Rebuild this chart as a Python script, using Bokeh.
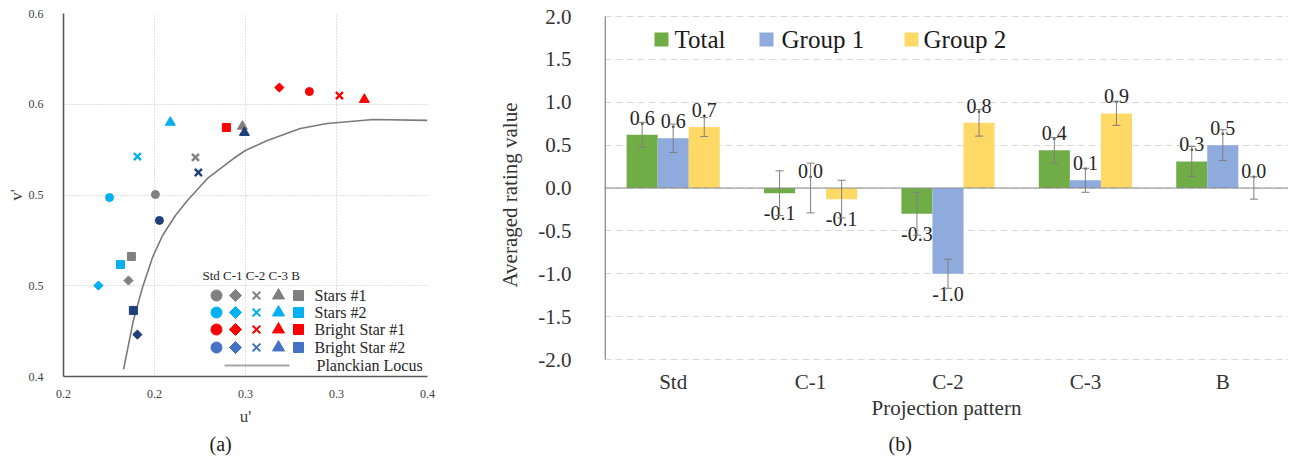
from bokeh.plotting import figure
from bokeh.models import (Range1d, FixedTicker, ColumnDataSource, Whisker, TeeHead,
                          Span, Title, NumeralTickFormatter)
from bokeh.layouts import row
from bokeh.embed import file_html
from bokeh.resources import INLINE
from bokeh.core.properties import value
import numpy as np

SERIF = "Liberation Serif"

# ---------------- (a) chromaticity data ----------------
series_names = ["Stars #1", "Stars #2", "Bright Star #1", "Bright Star #2"]
patterns = ["Std", "C-1", "C-2", "C-3", "B"]
stars1_u = [0.2505, 0.2357, 0.2725, 0.2983, 0.2373]
stars1_v = [0.5003, 0.4529, 0.5207, 0.5378, 0.4661]
stars2_u = [0.2253, 0.2192, 0.2406, 0.2587, 0.2313]
stars2_v = [0.4986, 0.4501, 0.5212, 0.5400, 0.4617]
bright1_u = [0.3351, 0.3186, 0.3516, 0.3653, 0.2895]
bright1_v = [0.5570, 0.5592, 0.5548, 0.5526, 0.5372]
bright2_u = [0.2527, 0.2406, 0.2741, 0.2994, 0.2384]
bright2_v = [0.4860, 0.4231, 0.5124, 0.5344, 0.4364]
locus_u = [0.2330, 0.2384, 0.2434, 0.2489, 0.2544, 0.2615, 0.2681, 0.2791, 0.2934,
           0.2999, 0.3120, 0.3301, 0.3449, 0.3702, 0.3999]
locus_v = [0.4039, 0.4309, 0.4490, 0.4656, 0.4777, 0.4887, 0.4970, 0.5091, 0.5201,
           0.5245, 0.5300, 0.5366, 0.5394, 0.5416, 0.5411]
u_ticks = [0.2, 0.25, 0.3, 0.35, 0.4]
u_tick_labels = ["0.2", "0.2", "0.3", "0.3", "0.4"]
v_ticks = [0.4, 0.45, 0.5, 0.55, 0.6]
v_tick_labels = ["0.4", "0.5", "0.5", "0.6", "0.6"]

# ---------------- (b) rating data ----------------
categories = ["Std", "C-1", "C-2", "C-3", "B"]
group_names = ["Total", "Group 1", "Group 2"]
total_vals = [0.62, -0.06, -0.30, 0.44, 0.31]
group1_vals = [0.58, 0.00, -1.00, 0.09, 0.50]
group2_vals = [0.71, -0.13, 0.76, 0.87, 0.00]
total_err = [0.145, 0.26, 0.25, 0.15, 0.175]
group1_err = [0.165, 0.29, 0.17, 0.14, 0.18]
group2_err = [0.11, 0.22, 0.155, 0.14, 0.13]
y_ticks = [-2.0, -1.5, -1.0, -0.5, 0.0, 0.5, 1.0, 1.5, 2.0]

# common layout (both frames share top / bottom)
TOTAL_W, H = 1288, 464
FR_TOP, FR_BOT = 13, 376
MB_TOP, MB_BOT = FR_TOP, H - FR_BOT

# =============== figure (a) ===============
FA_W = 470
A_L, A_R = 63, 43
pa = figure(width=FA_W, height=H, output_backend="svg", toolbar_location=None,
            x_range=Range1d(0.2, 0.4), y_range=Range1d(0.4, 0.6),
            min_border_left=A_L, min_border_right=A_R, min_border_top=MB_TOP,
            min_border_bottom=MB_BOT)
pa.outline_line_color = None
frame_w = FA_W - A_L - A_R
frame_h = FR_BOT - FR_TOP


def ax(px):  # frame-relative pixel -> u
    return 0.2 + px / frame_w * 0.2


def ay(py):  # frame-relative pixel (from top) -> v
    return 0.6 - py / frame_h * 0.2


for axis in (pa.xaxis, pa.yaxis):
    axis.axis_line_color = "#595959"
    axis.axis_line_width = 1.6
    axis.major_tick_line_color = None
    axis.minor_tick_line_color = None
    axis.major_label_text_font = SERIF
    axis.major_label_text_font_size = "12px"
    axis.major_label_text_color = "#404040"
    axis.axis_label_text_font = SERIF
    axis.axis_label_text_font_style = "normal"
    axis.axis_label_text_font_size = "17px"
    axis.axis_label_text_color = "#404040"
pa.xaxis.ticker = FixedTicker(ticks=u_ticks)
pa.yaxis.ticker = FixedTicker(ticks=v_ticks)
pa.xaxis.major_label_overrides = dict(zip(u_ticks, u_tick_labels))
pa.yaxis.major_label_overrides = dict(zip(v_ticks, v_tick_labels))
pa.xaxis.major_label_standoff = 7
pa.yaxis.major_label_standoff = 14
pa.xaxis.axis_label = "u'"
pa.yaxis.axis_label = "v'"
pa.xaxis.axis_label_standoff = 6
pa.yaxis.axis_label_standoff = 0
for g in (pa.xgrid, pa.ygrid):
    g.grid_line_color = "#c0c0c0"
    g.grid_line_dash = "1 2"
    g.grid_line_width = 1

pa.line(locus_u, locus_v, line_color="#7a7a7a", line_width=1.6)

data_colors = ["#808080", "#00B0F0", "#FF0000", "#1F3F78"]
legend_colors = ["#808080", "#00B0F0", "#FF0000", "#4472C4"]
series_u = [stars1_u, stars2_u, bright1_u, bright2_u]
series_v = [stars1_v, stars2_v, bright1_v, bright2_v]
marker_specs = [("circle", 0.0, 8), ("square", np.pi / 4, 6.5), ("x", 0.0, 10),
                ("triangle", 0.0, 10), ("square", 0.0, 8)]
legend_sizes = [11, 8.5, 11, 12, 10]

for s, (us, vs) in enumerate(zip(series_u, series_v)):
    for k, (mk, ang, sz) in enumerate(marker_specs):
        if mk == "x":
            pa.scatter([us[k]], [vs[k]], marker="x", size=sz, line_color=data_colors[s],
                       line_width=2.4)
        else:
            pa.scatter([us[k]], [vs[k]], marker=mk, angle=ang, size=sz,
                       fill_color=data_colors[s], line_color=data_colors[s])

# custom legend for (a)
col_px = [153, 172, 193, 215, 235]
row_px = [282, 299, 316, 334]
pa.text(x=[ax(139)], y=[ay(262)], text=[" ".join(patterns)],
        text_font=value(SERIF), text_font_size="13px", text_baseline="middle",
        text_align="left", text_color="#262626")
for s in range(4):
    for k, (mk, ang, sz) in enumerate(marker_specs):
        if mk == "x":
            pa.scatter([ax(col_px[k])], [ay(row_px[s])], marker="x",
                       size=legend_sizes[k], line_color=legend_colors[s], line_width=2)
        else:
            pa.scatter([ax(col_px[k])], [ay(row_px[s])], marker=mk, angle=ang,
                       size=legend_sizes[k], fill_color=legend_colors[s],
                       line_color=legend_colors[s])
    pa.text(x=[ax(251)], y=[ay(row_px[s])], text=[series_names[s]],
            text_font=value(SERIF), text_font_size="16px", text_baseline="middle",
            text_align="left", text_color="#262626")
pa.line([ax(161), ax(226)], [ay(352), ay(352)], line_color="#a6a6a6", line_width=2)
pa.text(x=[ax(253)], y=[ay(352)], text=["Planckian  Locus"],
        text_font=value(SERIF), text_font_size="16px", text_baseline="middle",
        text_align="left", text_color="#262626")

ta = Title(text="(a)", align="left", text_font=SERIF, text_font_size="20px",
           text_font_style="normal", text_color="#1a1a1a", offset=146, standoff=5)
pa.add_layout(ta, "below")

# =============== figure (b) ===============
FB_W = TOTAL_W - FA_W
B_L, B_R = 604 - FA_W, 0
CAT_PX = 137.4
UNIT_PX = 85.75
ZERO_PY = 187.5
x_end = (FB_W - B_L - B_R) / CAT_PX
y_top = (ZERO_PY - FR_TOP) / UNIT_PX
y_bot = (ZERO_PY - FR_BOT) / UNIT_PX
pb = figure(width=FB_W, height=H, output_backend="svg", toolbar_location=None,
            x_range=Range1d(0, x_end), y_range=Range1d(y_bot, y_top),
            min_border_left=B_L, min_border_right=B_R, min_border_top=MB_TOP,
            min_border_bottom=MB_BOT)
pb.outline_line_color = None
pb.xgrid.grid_line_color = None
pb.ygrid.grid_line_color = "#d9d9d9"
pb.ygrid.grid_line_dash = "7 4"
pb.ygrid.grid_line_width = 1
pb.yaxis.ticker = FixedTicker(ticks=y_ticks)
pb.yaxis.formatter = NumeralTickFormatter(format="0.0")
cat_ticks = [i + 0.5 for i in range(len(categories))]
pb.xaxis.ticker = FixedTicker(ticks=cat_ticks)
pb.xaxis.major_label_overrides = dict(zip(cat_ticks, categories))
for axis in (pb.xaxis, pb.yaxis):
    axis.axis_line_color = None
    axis.major_tick_line_color = None
    axis.minor_tick_line_color = None
    axis.major_label_text_font = SERIF
    axis.major_label_text_font_size = "21px"
    axis.major_label_text_color = "#333333"
    axis.axis_label_text_font = SERIF
    axis.axis_label_text_font_style = "normal"
    axis.axis_label_text_font_size = "21px"
    axis.axis_label_text_color = "#333333"
pb.yaxis.major_label_standoff = 27
pb.xaxis.major_label_standoff = -13
pb.yaxis.axis_label = "Averaged rating value"
pb.xaxis.axis_label = "Projection pattern"
pb.yaxis.axis_label_standoff = 13
pb.xaxis.axis_label_standoff = -1

# value axis line drawn only over the tick span
pb.segment(x0=[0.6 / CAT_PX], x1=[0.6 / CAT_PX], y0=[y_ticks[0]], y1=[y_ticks[-1]],
           line_color="#6b6b6b", line_width=1.3)
pb.add_layout(Span(location=0, dimension="width", line_color="#8c8c8c", line_width=1.2))

bar_colors = ["#70AD47", "#8FAADC", "#FFD966"]
bar_w = 0.226
offsets = [-bar_w, 0.0, bar_w]
vals_all = [total_vals, group1_vals, group2_vals]
errs_all = [total_err, group1_err, group2_err]
for gi in range(3):
    xs = [i + 0.5 + offsets[gi] for i in range(len(categories))]
    vals = vals_all[gi]
    errs = errs_all[gi]
    pb.vbar(x=xs, top=vals, bottom=0, width=bar_w, fill_color=bar_colors[gi],
            line_color=None)
    src = ColumnDataSource(dict(
        x=xs,
        upper=[v + e for v, e in zip(vals, errs)],
        lower=[v - e for v, e in zip(vals, errs)],
        y=vals,
        txt=[f"{v:.1f}" for v in vals],
        yoff=[-17 if v >= 0 else 20 for v in vals],
    ))
    pb.text(x="x", y="y", text="txt", y_offset="yoff", source=src,
            text_font=value(SERIF), text_font_size="20px", text_align="center",
            text_baseline="middle", text_color="#262626")
    wh = Whisker(base="x", upper="upper", lower="lower", source=src, dimension="height",
                 line_color="#7f7f7f", line_width=1,
                 upper_head=TeeHead(size=8, line_color="#7f7f7f", line_width=1),
                 lower_head=TeeHead(size=8, line_color="#7f7f7f", line_width=1),
                 level="overlay")
    pb.add_layout(wh)


# custom legend for (b)
def bx(px):
    return (px - 604) / CAT_PX


def by(py):
    return (ZERO_PY - py) / UNIT_PX


leg_sq = [661, 766, 911]
leg_tx = [674, 781, 923]
for gi in range(3):
    pb.scatter([bx(leg_sq[gi])], [by(39)], marker="square", size=14,
               fill_color=bar_colors[gi], line_color=None)
    pb.text(x=[bx(leg_tx[gi])], y=[by(39)], text=[group_names[gi]],
            text_font=value(SERIF), text_font_size="25px", text_baseline="middle",
            text_align="left", text_color="#1a1a1a")

tb = Title(text="(b)", align="left", text_font=SERIF, text_font_size="20px",
           text_font_style="normal", text_color="#1a1a1a", offset=284, standoff=17)
pb.add_layout(tb, "below")

layout = row(pa, pb)
open("out.html", "w").write(file_html(layout, INLINE))
